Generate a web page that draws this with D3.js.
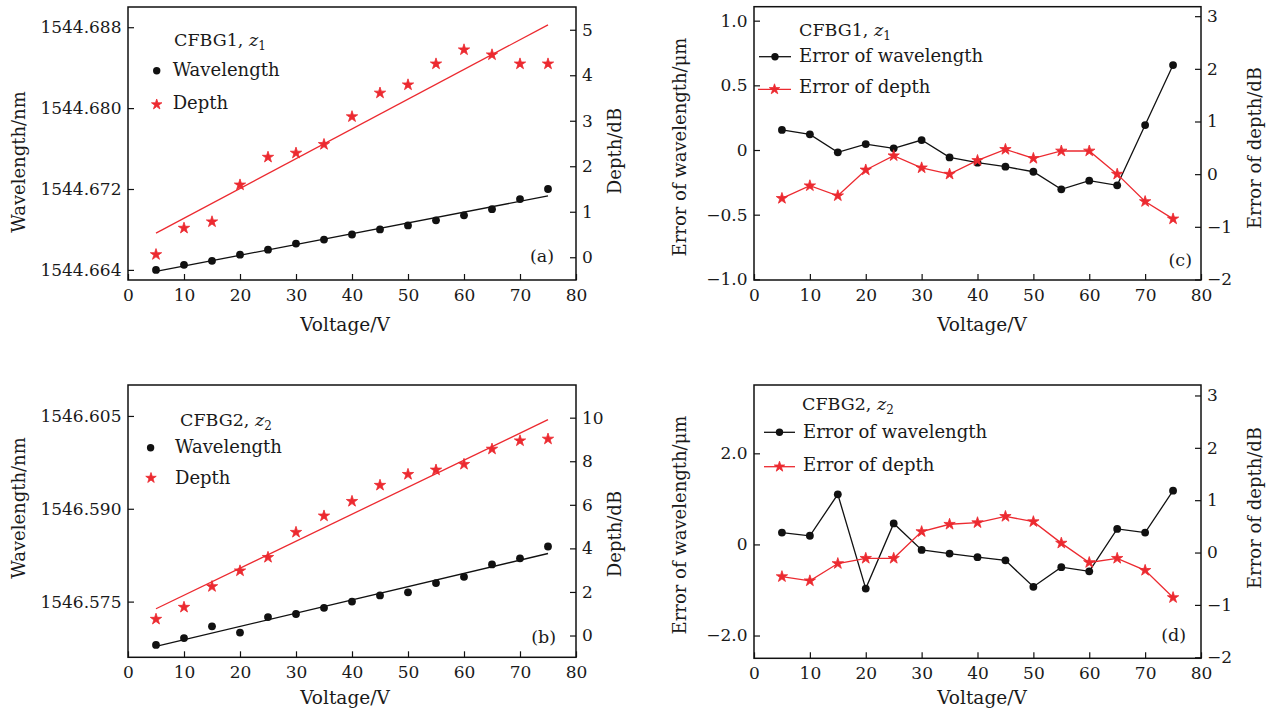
<!DOCTYPE html>
<html>
<head>
<meta charset="utf-8">
<script src="https://cdn.jsdelivr.net/npm/d3@7"></script>
<style>
  body { margin: 0; background: #fff; }
  svg { display: block; }
  text { font-family: "DejaVu Serif", serif; fill: #1a1a1a; }
</style>
</head>
<body>
<div id="chart"></div>
<script>
// voltage steps shared by every panel
var voltage = [5, 10, 15, 20, 25, 30, 35, 40, 45, 50, 55, 60, 65, 70, 75];

// (a) CFBG1 measured wavelength (nm) and depth (dB)
var wavelengthA = [1544.6640, 1544.6645, 1544.6649, 1544.6655, 1544.6660, 1544.6666, 1544.6670,
  1544.6675, 1544.6680, 1544.6684, 1544.6689, 1544.6694, 1544.6700, 1544.6710, 1544.6720];
var depthA = [0.06, 0.64, 0.78, 1.59, 2.20, 2.29, 2.48, 3.09, 3.61, 3.79, 4.25, 4.56, 4.45, 4.25, 4.25];

// (b) CFBG2 measured wavelength (nm) and depth (dB)
var wavelengthB = [1546.5680, 1546.5691, 1546.5710, 1546.5700, 1546.5725, 1546.5730, 1546.5740,
  1546.5750, 1546.5760, 1546.5765, 1546.5780, 1546.5790, 1546.5810, 1546.5820, 1546.5839];
var depthB = [0.75, 1.30, 2.25, 2.97, 3.59, 4.74, 5.49, 6.16, 6.90, 7.40, 7.60, 7.86, 8.56, 8.94, 9.02];

// (c) CFBG1 errors
var errWavelengthC = [0.155, 0.121, -0.018, 0.046, 0.013, 0.077, -0.057, -0.098, -0.129, -0.168,
  -0.304, -0.237, -0.273, 0.193, 0.657];
var errDepthC = [-0.46, -0.22, -0.41, 0.08, 0.35, 0.12, 0.0, 0.26, 0.47, 0.30, 0.44, 0.44, 0.0, -0.52, -0.85];

// (d) CFBG2 errors
var errWavelengthD = [0.26, 0.19, 1.10, -0.97, 0.46, -0.12, -0.20, -0.28, -0.35, -0.93, -0.50, -0.59,
  0.34, 0.26, 1.18];
var errDepthD = [-0.46, -0.54, -0.21, -0.11, -0.11, 0.40, 0.54, 0.57, 0.69, 0.59, 0.18, -0.19, -0.11, -0.34, -0.86];

// tick values
var xTicks = [0, 10, 20, 30, 40, 50, 60, 70, 80];
var ticksWlA = [1544.664, 1544.672, 1544.680, 1544.688];
var ticksDepthA = [0, 1, 2, 3, 4, 5];
var ticksWlB = [1546.575, 1546.590, 1546.605];
var ticksDepthB = [0, 2, 4, 6, 8, 10];
var ticksErrWlC = [-1.0, -0.5, 0, 0.5, 1.0];
var ticksErrWlD = [-2.0, 0, 2.0];
var ticksErrDepth = [-2, -1, 0, 1, 2, 3];

var RED = "#ec2a30";
var W = 1279, H = 713;

var svg = d3.select("#chart").append("svg").attr("width", W).attr("height", H);

var oneDec = function (d) { return d === 0 ? "0" : d3.format(".1f")(d); };

var panels = [
  { kind: "fit", x0: 128, x1: 576, y0: 7, y1: 280,
    domL: [1544.663, 1544.690], domR: [-0.5, 5.5],
    ticksL: ticksWlA, ticksR: ticksDepthA, fmtL: d3.format(".3f"), fmtR: d3.format("d"),
    left: wavelengthA, right: depthA,
    labelL: "Wavelength/nm", labelLPos: [18.7, 162], labelR: "Depth/dB", labelRPos: [614.7, 151],
    xLabelPos: [345, 331], tag: "(a)", tagPos: [554, 262],
    title: ["CFBG1, ", "1"], titlePos: [174, 46],
    legend: [{ name: "Wavelength", x: 156.7, y: 70.7, tx: 172.7, ty: 76 },
             { name: "Depth", x: 156.7, y: 104.5, tx: 172.7, ty: 109.3 }] },
  { kind: "fit", x0: 128, x1: 576, y0: 385, y1: 657.3,
    domL: [1546.566, 1546.610], domR: [-1, 11.5],
    ticksL: ticksWlB, ticksR: ticksDepthB, fmtL: d3.format(".3f"), fmtR: d3.format("d"),
    left: wavelengthB, right: depthB,
    labelL: "Wavelength/nm", labelLPos: [18.7, 508], labelR: "Depth/dB", labelRPos: [614.7, 534],
    xLabelPos: [345, 704], tag: "(b)", tagPos: [556, 643],
    title: ["CFBG2, ", "2"], titlePos: [180, 426],
    legend: [{ name: "Wavelength", x: 150.6, y: 447.7, tx: 175, ty: 453 },
             { name: "Depth", x: 151, y: 478, tx: 175, ty: 484 }] },
  { kind: "err", x0: 754, x1: 1201, y0: 6.7, y1: 280,
    domL: [-1.005, 1.108], domR: [-2.01, 3.18],
    ticksL: ticksErrWlC, ticksR: ticksErrDepth, fmtL: oneDec, fmtR: d3.format("d"),
    left: errWavelengthC, right: errDepthC,
    labelL: "Error of wavelength/\u03bcm", labelLPos: [680, 147], labelR: "Error of depth/dB", labelRPos: [1255, 148],
    xLabelPos: [982, 331], tag: "(c)", tagPos: [1192, 266],
    title: ["CFBG1, ", "1"], titlePos: [799, 36],
    legend: [{ name: "Error of wavelength", x0: 759, x1: 791, y: 56.7, tx: 799, ty: 61.7 },
             { name: "Error of depth", x0: 758, x1: 791, y: 89.3, tx: 799, ty: 93.3 }] },
  { kind: "err", x0: 754, x1: 1201, y0: 385, y1: 658.3,
    domL: [-2.5, 3.5], domR: [-2.02, 3.2],
    ticksL: ticksErrWlD, ticksR: ticksErrDepth, fmtL: oneDec, fmtR: d3.format("d"),
    left: errWavelengthD, right: errDepthD,
    labelL: "Error of wavelength/\u03bcm", labelLPos: [680, 525], labelR: "Error of depth/dB", labelRPos: [1255, 508],
    xLabelPos: [982, 704], tag: "(d)", tagPos: [1186, 641],
    title: ["CFBG2, ", "2"], titlePos: [802, 410],
    legend: [{ name: "Error of wavelength", x0: 764, x1: 795, y: 432.3, tx: 803, ty: 437.7 },
             { name: "Error of depth", x0: 764, x1: 795, y: 466.7, tx: 803, ty: 471.3 }] }
];

var star = d3.symbol().type(d3.symbolStar).size(40);
var starSmall = d3.symbol().type(d3.symbolStar).size(34);

// least squares line through the points
function linfit(xs, ys) {
  var mx = d3.mean(xs), my = d3.mean(ys);
  var num = d3.sum(xs, function (x, i) { return (x - mx) * (ys[i] - my); });
  var den = d3.sum(xs, function (x) { return (x - mx) * (x - mx); });
  var b = num / den;
  return function (x) { return my + b * (x - mx); };
}

function styleAxis(g) {
  g.select(".domain").remove();
  g.selectAll(".tick line").attr("stroke", "#111").attr("stroke-width", 1.2);
  g.selectAll("text").attr("font-family", "DejaVu Serif").attr("font-size", 17).attr("fill", "#1a1a1a");
  g.attr("font-family", null).attr("font-size", null);
}

panels.forEach(function (p) {
  var x = d3.scaleLinear().domain([0, 80]).range([p.x0, p.x1]);
  var yL = d3.scaleLinear().domain(p.domL).range([p.y1, p.y0]);
  var yR = d3.scaleLinear().domain(p.domR).range([p.y1, p.y0]);
  var g = svg.append("g");

  // axes, ticks pointing inward
  g.append("g").attr("transform", "translate(0," + p.y1 + ")")
    .call(d3.axisBottom(x).tickValues(xTicks).tickSize(-6).tickPadding(9)).call(styleAxis);
  g.append("g").attr("transform", "translate(" + p.x0 + ",0)")
    .call(d3.axisLeft(yL).tickValues(p.ticksL).tickFormat(p.fmtL).tickSize(-6).tickPadding(6.5)).call(styleAxis);
  g.append("g").attr("transform", "translate(" + p.x1 + ",0)")
    .call(d3.axisRight(yR).tickValues(p.ticksR).tickFormat(p.fmtR).tickSize(-6).tickPadding(6)).call(styleAxis);

  g.append("rect").attr("x", p.x0).attr("y", p.y0)
    .attr("width", p.x1 - p.x0).attr("height", p.y1 - p.y0)
    .attr("fill", "none").attr("stroke", "#111").attr("stroke-width", 1.5);

  var pts = voltage.map(function (v, i) { return { v: v, l: p.left[i], r: p.right[i] }; });
  var ext = d3.extent(voltage);

  if (p.kind === "fit") {
    var fl = linfit(voltage, p.left), fr = linfit(voltage, p.right);
    g.append("line").attr("x1", x(ext[0])).attr("x2", x(ext[1]))
      .attr("y1", yR(fr(ext[0]))).attr("y2", yR(fr(ext[1])))
      .attr("stroke", RED).attr("stroke-width", 1.3);
    g.append("line").attr("x1", x(ext[0])).attr("x2", x(ext[1]))
      .attr("y1", yL(fl(ext[0]))).attr("y2", yL(fl(ext[1])))
      .attr("stroke", "#111").attr("stroke-width", 1.3);
  } else {
    g.append("path").datum(pts)
      .attr("d", d3.line().x(function (d) { return x(d.v); }).y(function (d) { return yL(d.l); }))
      .attr("fill", "none").attr("stroke", "#111").attr("stroke-width", 1.3);
  }

  g.append("g").selectAll("circle").data(pts).enter().append("circle")
    .attr("cx", function (d) { return x(d.v); })
    .attr("cy", function (d) { return yL(d.l); })
    .attr("r", 3.9).attr("fill", "#111");

  if (p.kind === "err") {
    g.append("path").datum(pts)
      .attr("d", d3.line().x(function (d) { return x(d.v); }).y(function (d) { return yR(d.r); }))
      .attr("fill", "none").attr("stroke", RED).attr("stroke-width", 1.3);
  }

  g.append("g").selectAll("path.star").data(pts).enter().append("path")
    .attr("class", "star")
    .attr("transform", function (d) { return "translate(" + x(d.v) + "," + yR(d.r) + ")"; })
    .attr("d", star).attr("fill", RED).attr("stroke", RED).attr("stroke-width", 0.8)
    .attr("stroke-linejoin", "round");

  // legend
  var t = g.append("text").attr("x", p.titlePos[0]).attr("y", p.titlePos[1]).attr("font-size", 17.5);
  t.append("tspan").text(p.title[0]);
  t.append("tspan").attr("font-style", "italic").text("z");
  t.append("tspan").attr("font-size", 12).attr("dy", 4).text(p.title[1]);

  p.legend.forEach(function (it, i) {
    var col = i === 0 ? "#111" : RED;
    var mx = it.x;
    if (p.kind === "err") {
      g.append("line").attr("x1", it.x0).attr("x2", it.x1).attr("y1", it.y).attr("y2", it.y)
        .attr("stroke", col).attr("stroke-width", 1.3);
      mx = (it.x0 + it.x1) / 2;
    }
    if (i === 0) {
      g.append("circle").attr("cx", mx).attr("cy", it.y).attr("r", 3.7).attr("fill", col);
    } else {
      g.append("path").attr("transform", "translate(" + mx + "," + it.y + ")").attr("d", starSmall)
        .attr("fill", col).attr("stroke", col).attr("stroke-width", 0.8).attr("stroke-linejoin", "round");
    }
    g.append("text").attr("x", it.tx).attr("y", it.ty).attr("font-size", 18).text(it.name);
  });

  // panel tag
  g.append("text").attr("x", p.tagPos[0]).attr("y", p.tagPos[1])
    .attr("text-anchor", "end").attr("font-size", 17.5).text(p.tag);

  // axis titles
  g.append("text").attr("x", p.xLabelPos[0]).attr("y", p.xLabelPos[1])
    .attr("text-anchor", "middle").attr("font-size", 18.5).text("Voltage/V");
  [[p.labelL, p.labelLPos], [p.labelR, p.labelRPos]].forEach(function (lb) {
    g.append("text")
      .attr("transform", "translate(" + lb[1][0] + "," + lb[1][1] + ") rotate(-90)")
      .attr("text-anchor", "middle").attr("dy", "0.35em").attr("font-size", 18).text(lb[0]);
  });
});
</script>
</body>
</html>
